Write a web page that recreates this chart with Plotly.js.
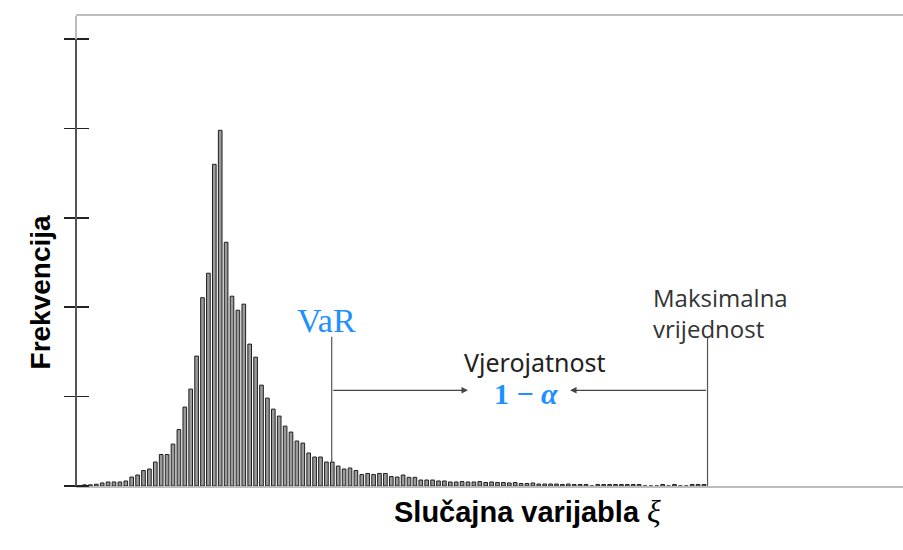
<!DOCTYPE html>
<html>
<head>
<meta charset="utf-8">
<script src="https://cdn.plot.ly/plotly-3.0.1.min.js"></script>
<style>html,body{margin:0;padding:0;background:#fff;}#chart{width:903px;height:550px;}</style>
</head>
<body>
<div id="chart"></div>
<script>
// Frequency per bin (arbitrary units, one y tick = 100)
const frequency = [
  1.3, 1.3, 2, 3.4, 4.5, 4.5, 4.5, 5.6, 10, 12.3,
  17.3, 19, 26.8, 35.2, 35.2, 46.9, 63.1, 88.3, 108.4, 145.3,
  210.6, 238, 359.8, 397.8, 272.6, 212.3, 196.6, 203.4, 158.7, 144.1,
  112.8, 98.3, 86, 78.2, 67, 60.3, 50.3, 48, 36.9, 32.4,
  32.4, 26.8, 26.8, 22.3, 19, 20.1, 17.3, 12.8, 14, 12.8,
  14, 14, 10.6, 10, 12.3, 9.7, 9.7, 6.7, 6.7, 6.7,
  5.6, 5.6, 4.5, 4.5, 5, 4.5, 4.5, 5, 3.9, 4.5,
  3.9, 3.9, 3.4, 3.9, 2.8, 2.8, 3.4, 2.2, 2.2, 2.2,
  2.2, 1.7, 2.2, 1.7, 1.7, 1.7, 0, 1.7, 1.7, 1.7,
  1.7, 1.7, 1.7, 1.7, 1.7, 0, 0, 0, 1.7, 0,
  1.7, 0, 0, 1.7, 1.7, 1.7
];
const binIndex = frequency.map((_, i) => i);
const yTicks = [0, 100, 200, 300, 400, 500];

// Marker positions (bin units / frequency units)
const varBin = 41.9;
const varLineTop = 167;
const maxBin = 105.6;
const maxLineTop = 166;
const arrowLevel = 107;
const rightArrowHead = 65;
const leftArrowHead = 82.3;

const xRange = [-1.44, 138.73];
const yRange = [0, 525.7];

const traces = [
  {
    type: 'bar',
    x: binIndex,
    y: frequency,
    width: 0.62,
    marker: {color: '#9a9a9a', line: {color: '#1e1e1e', width: 1}},
    hoverinfo: 'skip'
  }
];

const blue = '#1E90FF';
const layout = {
  width: 903, height: 550,
  margin: {l: 76, r: 0, t: 16, b: 64},
  paper_bgcolor: '#ffffff', plot_bgcolor: '#ffffff',
  showlegend: false,
  xaxis: {
    range: xRange, showgrid: false, zeroline: false,
    showticklabels: false, ticks: '',
    showline: true, linecolor: '#bdbdbd', linewidth: 2, mirror: true
  },
  // axis placed 13 px inside the frame so its 25 px outside ticks cross the left frame line
  yaxis: {
    range: yRange, anchor: 'free', position: 13 / 827,
    showgrid: false, zeroline: false,
    showticklabels: false, tickmode: 'array', tickvals: yTicks,
    ticks: 'outside', ticklen: 25, tickwidth: 1.5, tickcolor: '#222',
    showline: false
  },
  shapes: [
    {type: 'line', xref: 'paper', yref: 'paper', x0: 0, x1: 0, y0: 0, y1: 1,
     line: {color: '#bdbdbd', width: 2}},
    {type: 'line', xref: 'paper', yref: 'y', x0: 0, x1: 0, y0: yTicks[0], y1: yTicks[yTicks.length - 1],
     line: {color: '#333', width: 1.5}},
    {type: 'line', xref: 'x', yref: 'y', x0: varBin, x1: varBin, y0: frequency[42], y1: varLineTop,
     line: {color: '#555', width: 1.2}},
    {type: 'line', xref: 'x', yref: 'y', x0: maxBin, x1: maxBin, y0: 0, y1: maxLineTop,
     line: {color: '#555', width: 1.2}}
  ],
  annotations: [
    {xref: 'x', yref: 'y', axref: 'x', ayref: 'y', x: rightArrowHead, y: arrowLevel, ax: varBin, ay: arrowLevel,
     showarrow: true, arrowhead: 2, arrowsize: 1, arrowwidth: 1.3, arrowcolor: '#444', text: ''},
    {xref: 'x', yref: 'y', axref: 'x', ayref: 'y', x: leftArrowHead, y: arrowLevel, ax: maxBin, ay: arrowLevel,
     showarrow: true, arrowhead: 2, arrowsize: 1, arrowwidth: 1.3, arrowcolor: '#444', text: ''},
    {xref: 'x', yref: 'y', x: 41.1, y: 185, showarrow: false, text: 'VaR',
     font: {family: 'Liberation Serif, serif', size: 34, color: blue}},
    {xref: 'x', yref: 'y', x: 76.3, y: 139, showarrow: false, text: 'Vjerojatnost', borderpad: 0,
     font: {family: 'Noto Sans, sans-serif', size: 25, color: '#222'}},
    {xref: 'x', yref: 'y', x: 74.8, y: 103, showarrow: false, text: '<b>1 − <i>α</i></b>', borderpad: 0,
     font: {family: 'Liberation Serif, serif', size: 30, color: blue}},
    {xref: 'x', yref: 'y', x: 96.0, y: 194, xanchor: 'left', align: 'left', showarrow: false,
     text: 'Maksimalna<br>vrijednost',
     font: {family: 'Open Sans, sans-serif', size: 24, color: '#333'}},
    {xref: 'paper', yref: 'paper', x: -0.064, y: 0.413, textangle: -90, showarrow: false,
     text: '<b>Frekvencija</b>', font: {family: 'Liberation Sans, Arial, sans-serif', size: 28, color: '#000'}},
    {xref: 'paper', yref: 'paper', x: 0.546, y: -0.0967, showarrow: false,
     text: '<b>Slučajna varijabla</b> <i><span style="font-family:Liberation Serif;font-size:32px">ξ</span></i>',
     font: {family: 'Liberation Sans, Arial, sans-serif', size: 29, color: '#000'}}
  ]
};

Plotly.newPlot('chart', traces, layout, {staticPlot: true, displayModeBar: false});
</script>
</body>
</html>
